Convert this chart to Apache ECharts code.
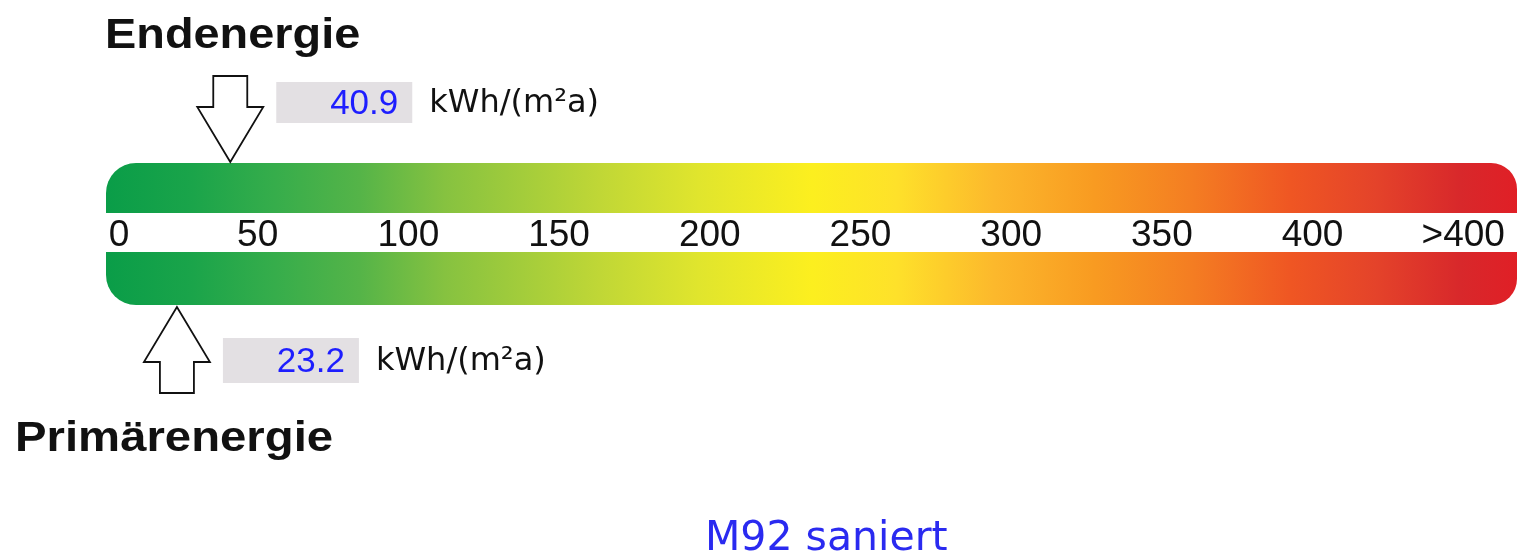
<!DOCTYPE html>
<html><head><meta charset="utf-8">
<script src="https://cdn.jsdelivr.net/npm/echarts@6/dist/echarts.min.js"></script>
<style>html,body{margin:0;padding:0;background:#fff}#c{width:1519px;height:559px}</style>
</head><body><div id="c"></div>
<script>
// ---- data ----
const categories = ['Endenergie', 'Primärenergie'];
const values = [40.9, 23.2];
const unitLabel = 'kWh/(m²a)';
const tickValues = [0, 50, 100, 150, 200, 250, 300, 350, 400, 450];
const tickLabels = ['0', '50', '100', '150', '200', '250', '300', '350', '400', '>400'];
const scaleRange = [0, 467.5];
const subtitle = 'M92 saniert';

// ---- style ----
const stops = [
  [0, '#0a9d48'], [0.06, '#1aa44a'], [0.12, '#36ad4b'], [0.18, '#55b448'],
  [0.24, '#86c240'], [0.35, '#c0d736'], [0.42, '#e0e52d'], [0.50, '#fcef1f'],
  [0.56, '#fee12a'], [0.63, '#fcb82c'], [0.70, '#f89b21'], [0.77, '#f47d22'],
  [0.84, '#ef5623'], [0.90, '#e4432a'], [0.96, '#d8282b'], [1, '#e01f26']
].map(s => ({offset: s[0], color: s[1]}));

const chart = echarts.init(document.getElementById('c'), null, {renderer: 'canvas'});

const barData = categories.map((c, i) => [scaleRange[0], scaleRange[1], i]);
const markerData = values.map((v, i) => [v, i]);

function renderBar(params, api) {
  const idx = api.value(2);
  const p0 = api.coord([api.value(0), idx]);
  const p1 = api.coord([api.value(1), idx]);
  const band = api.size([0, 1])[1];
  const thick = idx === 0 ? 50 : 53;
  const y = idx === 0 ? p0[1] - band / 2 : p0[1] + band / 2 - thick;
  return {
    type: 'rect',
    shape: {x: p0[0] - 1, y: y, width: p1[0] - p0[0] + 2, height: thick,
            r: idx === 0 ? [30, 26, 0, 0] : [0, 0, 26, 30]},
    style: {fill: new echarts.graphic.LinearGradient(0, 0, 1, 0, stops)}
  };
}

function renderMarker(params, api) {
  const v = api.value(0);
  const idx = api.value(1);
  const c = api.coord([v, idx]);
  const band = api.size([0, 1])[1];
  const x = c[0];
  const down = idx === 0;
  const tipY = down ? c[1] - band / 2 - 1 : c[1] + band / 2 + 2;
  const s = down ? -1 : 1;
  const headL = 55, shaftL = 31, wing = 33, shaft = 17;
  const pts = [
    [x, tipY],
    [x + wing, tipY + s * headL],
    [x + shaft, tipY + s * headL],
    [x + shaft, tipY + s * (headL + shaftL)],
    [x - shaft, tipY + s * (headL + shaftL)],
    [x - shaft, tipY + s * headL],
    [x - wing, tipY + s * headL]
  ];
  const boxW = 136, boxH = down ? 41 : 45;
  const boxX = x + 46;
  const boxY = down ? tipY - 80 : tipY + 31;
  const midY = boxY + boxH / 2 + 2;
  return {
    type: 'group',
    children: [
      {type: 'polygon', shape: {points: pts}, style: {fill: '#fff', stroke: '#111', lineWidth: 1.8}},
      {type: 'rect', shape: {x: boxX, y: boxY, width: boxW, height: boxH}, style: {fill: '#e3e0e3'}},
      {type: 'text', x: boxX + boxW - 14, y: midY,
        style: {text: v.toFixed(1), font: '35px "Liberation Sans"', fill: '#1e1eff', align: 'right', verticalAlign: 'middle'}},
      {type: 'text', x: boxX + boxW + 17, y: midY - 1,
        style: {text: unitLabel, font: '32px "DejaVu Sans"', fill: '#111', align: 'left', verticalAlign: 'middle'}}
    ]
  };
}

const option = {
  backgroundColor: '#fff',
  animation: false,
  grid: {left: 107, right: 0, top: 163, bottom: 254, containLabel: false},
  xAxis: {
    type: 'value', min: scaleRange[0], max: scaleRange[1], interval: 50,
    position: 'bottom', offset: -92,
    axisLine: {show: false}, axisTick: {show: false}, splitLine: {show: false},
    axisLabel: {
      margin: 4, color: '#111', fontFamily: 'Liberation Sans', fontSize: 37,
      formatter: function (val) {
        const i = tickValues.indexOf(val);
        if (i < 0) return '';
        return i === 0 ? '{z|' + tickLabels[i] + '}' : tickLabels[i];
      },
      rich: {z: {fontFamily: 'Liberation Sans', fontSize: 37, color: '#111', padding: [0, 0, 0, 24]}}
    }
  },
  yAxis: {type: 'category', data: categories, inverse: true, show: false},
  graphic: [
    {type: 'text', x: 105, y: 36, scaleX: 1.09,
      style: {text: categories[0], font: 'bold 43px "Liberation Sans"', fill: '#111', align: 'left', verticalAlign: 'middle'}},
    {type: 'text', x: 15, y: 439, scaleX: 1.1,
      style: {text: categories[1], font: 'bold 43px "Liberation Sans"', fill: '#111', align: 'left', verticalAlign: 'middle'}},
    {type: 'text', x: 705, y: 539,
      style: {text: subtitle, font: '41px "DejaVu Sans"', fill: '#2a2af0', align: 'left', verticalAlign: 'middle'}}
  ],
  series: [
    {type: 'custom', renderItem: renderBar, data: barData, clip: false, silent: true, z: 1,
      encode: {x: [0, 1], y: 2}},
    {type: 'custom', renderItem: renderMarker, data: markerData, clip: false, silent: true, z: 2,
      encode: {x: 0, y: 1}}
  ]
};
chart.setOption(option);
</script>
</body></html>
